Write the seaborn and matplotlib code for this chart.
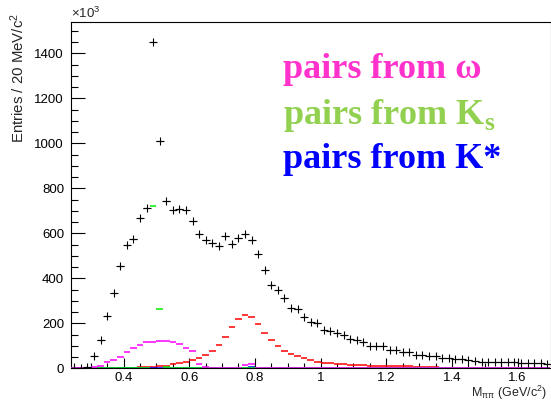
import numpy as np
import pandas as pd
import matplotlib
matplotlib.use("Agg")
import matplotlib.pyplot as plt
import seaborn as sns

# ---------------- data (thousands of entries per 20 MeV/c^2 bin) ----------------
bin_low = 0.24
bin_width = 0.02
n_bins = 73  # bin centres 0.25 ... 1.69

total = [1, 3, 8, 55, 127, 232, 333, 453, 549, 576,
         669, 714, 1449, 1013, 742, 703, 708, 703, 657, 597,
         570, 555, 545, 587, 554, 579, 598, 572, 509, 437,
         369, 348, 311, 267, 265, 227, 204, 201, 172, 164,
         155, 148, 131, 127, 118, 100, 99, 98, 83, 80,
         74, 71, 60, 60, 53, 53, 44, 47, 40, 43,
         37, 34, 29, 27, 27, 27, 27, 27, 25, 25,
         23, 23, 21]

rho_like = [0, 0, 0, 0, 0, 0, 1, 1, 2, 3,
            4, 5, 7, 9, 11, 18, 23, 27, 35, 46,
            58, 77, 105, 140, 183, 221, 239, 228, 195, 158,
            124, 99, 77, 64, 53, 44, 37, 29, 25, 24,
            20, 20, 16, 15, 14, 12, 12, 12, 11, 10,
            9, 9, 8, 8, 7, 6, 2, 1, 1, 1,
            1, 0, 0, 0, 0, 0, 0, 0, 0, 0,
            0, 0, 0]

from_omega = [0, 1, 3, 5, 12, 26, 37, 52, 71, 89,
              105, 116, 119, 121, 121, 115, 106, 92, 75, 20,
              8, 2, 0, 0, 0, 2, 14, 18, 2, 0,
              0, 0, 0, 0, 0, 0, 0, 0, 0, 0,
              0, 0, 0, 0, 0, 0, 0, 0, 0, 0,
              0, 0, 0, 0, 0, 0, 0, 0, 0, 0,
              0, 0, 0, 0, 0, 0, 0, 0, 0, 0,
              0, 0, 0]

from_ks = [0, 0, 0, 0, 0, 0, 0, 0, 0, 0,
           1, 3, 721, 263, 5, 1, 0, 0, 0, 0,
           0, 0, 0, 0, 0, 0, 0, 0, 0, 0,
           0, 0, 0, 0, 0, 0, 0, 0, 0, 0,
           0, 0, 0, 0, 0, 0, 0, 0, 0, 0,
           0, 0, 0, 0, 0, 0, 0, 0, 0, 0,
           0, 0, 0, 0, 0, 0, 0, 0, 0, 0,
           0, 0, 0]

from_kstar = [0, 0, 0, 0, 0, 0, 0, 0, 0, 0,
              0, 0, 0, 0, 0, 0, 0, 0, 0, 1,
              3, 3, 1, 0, 0, 0, 0, 4, 2, 0,
              0, 0, 0, 0, 0, 0, 0, 0, 0, 0,
              0, 0, 0, 0, 0, 0, 0, 0, 0, 0,
              0, 0, 0, 0, 0, 0, 0, 0, 0, 0,
              0, 0, 0, 0, 0, 0, 0, 0, 0, 0,
              0, 0, 0]

x_ticks = [0.4, 0.6, 0.8, 1.0, 1.2, 1.4, 1.6]
x_tick_labels = ["0.4", "0.6", "0.8", "1", "1.2", "1.4", "1.6"]
y_ticks = [0, 200, 400, 600, 800, 1000, 1200, 1400]
y_tick_labels = ["0", "200", "400", "600", "800", "1000", "1200", "1400"]

legend_texts = ["pairs from ω", "pairs from K", "pairs from K*"]

centres = np.round(bin_low + bin_width * (np.arange(n_bins) + 0.5), 3)
df = pd.DataFrame({"m": centres, "total": total, "rho": rho_like,
                   "omega": from_omega, "ks": from_ks, "kstar": from_kstar})

# ---------------- style ----------------
sns.set_theme(style="ticks")
plt.rcParams["font.family"] = ["Liberation Sans", "DejaVu Sans"]
plt.rcParams["mathtext.fontset"] = "custom"
plt.rcParams["mathtext.rm"] = "Liberation Sans"
plt.rcParams["mathtext.it"] = "Liberation Sans:italic"
plt.rcParams["mathtext.bf"] = "Liberation Serif:bold"

W, H = 551, 401
fig = plt.figure(figsize=(W / 100, H / 100), dpi=100)
fig.patch.set_facecolor("white")
ax = fig.add_axes([71 / W, 1 - 368.3 / H, (550.5 - 71) / W, (368.3 - 22) / H])
ax.set_facecolor("white")

hw = bin_width / 2
# coloured component histograms (drawn as bin-wide horizontal bars)
for col, c in [("rho", "#ff0000"), ("kstar", "#0000ff"),
               ("ks", "#00ee00"), ("omega", "#ff00ff")]:
    ax.errorbar(df["m"], df[col], xerr=hw, fmt="none", ecolor=c,
                elinewidth=1.1, capsize=0, zorder=3)

# total: crosses with bin-wide horizontal bars
ax.errorbar(df["m"], df["total"], xerr=hw, fmt="none", ecolor="black",
            elinewidth=0.8, capsize=0, zorder=4)
sns.scatterplot(data=df, x="m", y="total", marker="+", s=26, color="black",
                linewidth=0.8, ax=ax, zorder=5, legend=False)

ax.set_xlim(0.24, 1.70)
ax.set_ylim(0, 1540)
ax.set_xticks(x_ticks)
ax.set_xticklabels(x_tick_labels)
ax.set_yticks(y_ticks)
ax.set_yticklabels(y_tick_labels)
ax.set_xticks(np.arange(0.25, 1.70, 0.05), minor=True)
ax.set_yticks(np.arange(0, 1540, 50), minor=True)
ax.set_xlabel("")
ax.set_ylabel("")

ax.tick_params(axis="both", which="both", direction="in", colors="black",
               labelsize=9.5, top=False, right=False)
ax.tick_params(axis="y", which="major", length=10, width=0.8, pad=5)
ax.tick_params(axis="y", which="minor", length=5, width=0.8)
ax.tick_params(axis="x", which="major", length=7.5, width=0.8, pad=3)
ax.tick_params(axis="x", which="minor", length=3.8, width=0.8)
for s in ax.spines.values():
    s.set_visible(True)
    s.set_color("black")
    s.set_linewidth(0.8)

# axis titles
fig.text(18 / W, 1 - 13 / H, "Entries / 20 MeV/c$^{2}$", rotation=90,
         ha="center", va="top", fontsize=10.8)
fig.text(547 / W, 1 - 393 / H, r"M$_{\mathrm{\pi\pi}}$ (GeV/c$^{2}$)",
         ha="right", va="center", fontsize=9)
fig.text(71 / W, 1 - 13 / H, "×10$^{3}$", ha="left", va="center", fontsize=9.5)

# legend texts
leg_font = dict(family=["Liberation Serif", "DejaVu Serif"], weight="bold",
                fontsize=26)
fig.text(283 / W, 1 - 78 / H, legend_texts[0], color="#ff33cc",
         ha="left", va="baseline", **leg_font)
fig.text(283 / W, 1 - 124 / H, legend_texts[1] + r"$_{\mathbf{s}}$",
         color="#92d050", ha="left", va="baseline", **leg_font)
fig.text(283 / W, 1 - 168 / H, legend_texts[2], color="#0000ff",
         ha="left", va="baseline", **leg_font)

fig.savefig("out.png", dpi=100, facecolor="white")
